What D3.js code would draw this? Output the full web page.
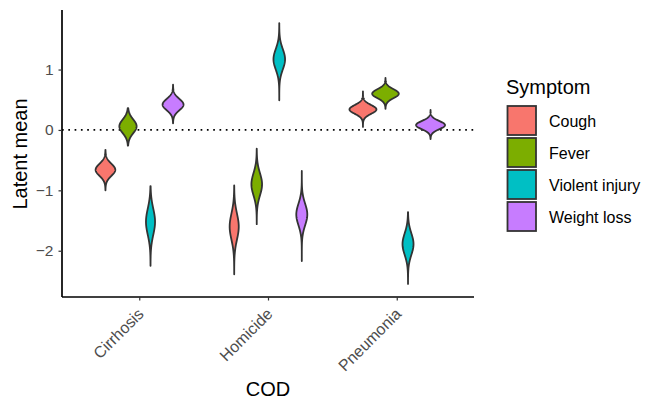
<!DOCTYPE html>
<html><head><meta charset="utf-8">
<script src="https://cdn.jsdelivr.net/npm/d3@7"></script>
<style>body{margin:0;background:#fff}text{font-family:"Liberation Sans",Arial,sans-serif}</style>
</head><body><svg id="c" width="664" height="412"></svg>
<script>
const cods = ["Cirrhosis","Homicide","Pneumonia"];
const symptoms = ["Cough","Fever","Violent injury","Weight loss"];
const colors = ["#F8766D","#7CAE00","#00BFC4","#C77CFF"];
// per COD, per symptom: posterior mode, spread (sd), min, max
const centers = [[-0.66,0.06,-1.52,0.42],[-1.6,-0.9,1.17,-1.4],[0.34,0.6,-1.89,0.08]];
const spreads = [[0.10,0.114,0.217,0.094],[0.217,0.185,0.17,0.179],[0.073,0.074,0.179,0.068]];
const mins = [[-1.0,-0.26,-2.25,0.11],[-2.39,-1.56,0.49,-2.17],[0.05,0.35,-2.55,-0.15]];
const maxs = [[-0.33,0.36,-0.93,0.75],[-0.92,-0.31,1.77,-0.68],[0.64,0.86,-1.36,0.33]];
const yTicks = [-2,-1,0,1];

const svg = d3.select("#c");
const L=62, R=474, T=10, B=297;
const x = d3.scaleLinear().domain([0.4,3.6]).range([L,R]);
const allMin = d3.min(mins.flat()), allMax = d3.max(maxs.flat());
const pad = (allMax-allMin)*0.05;
const y = d3.scaleLinear().domain([allMin-pad, allMax+pad]).range([B,T]);
const dodge = 0.7, vw = 0.9/4;
const minSd = d3.min(spreads.flat());

// zero line
svg.append("line").attr("x1",L).attr("x2",R).attr("y1",y(0)).attr("y2",y(0))
  .attr("stroke","#000").attr("stroke-width",1.7).attr("stroke-dasharray","1.7,4.6");

const area = d3.area().curve(d3.curveLinear);
cods.forEach((c,ci)=>{
  symptoms.forEach((s,si)=>{
    const cx = ci+1 + (si-1.5)*dodge/4;
    const m=centers[ci][si], sd=spreads[ci][si], lo=mins[ci][si], hi=maxs[ci][si];
    const pts=[];
    const n=120;
    for(let k=0;k<=n;k++){
      const v = lo + (hi-lo)*k/n;
      const dens = Math.exp(-0.5*((v-m)/sd)**2)/sd;
      const hw = (vw/2)*dens*minSd;
      pts.push([v,hw]);
    }
    const d = area.x0(p=>x(cx-p[1])).x1(p=>x(cx+p[1])).y(p=>y(p[0]))(pts);
    svg.append("path").attr("d",d).attr("fill",colors[si]).attr("stroke","#333333")
      .attr("stroke-width",1.8).attr("stroke-linejoin","round");
  });
});

// axes
const ya = svg.append("g").attr("transform",`translate(${L},0)`)
  .call(d3.axisLeft(y).tickValues(yTicks).tickSize(3.5).tickPadding(5).tickFormat(d=>d<0?"\u2212"+Math.abs(d):d));
ya.select(".domain").attr("d",`M0,${T}V${B}`).attr("stroke","#000").attr("stroke-width",1.7);
ya.selectAll(".tick line").attr("stroke","#333").attr("stroke-width",1.2);
ya.selectAll(".tick text").attr("fill","#4D4D4D").style("font-size","15.5px");

const xa = svg.append("g").attr("transform",`translate(0,${B})`)
  .call(d3.axisBottom(x).tickValues([1,2,3]).tickSize(3.5).tickFormat(d=>cods[d-1]));
xa.select(".domain").attr("d",`M${L},0H${R}`).attr("stroke","#000").attr("stroke-width",1.7);
xa.selectAll(".tick line").attr("stroke","#333").attr("stroke-width",1.2);
xa.selectAll(".tick text").attr("fill","#4D4D4D").style("font-size","16px")
  .attr("text-anchor","end").attr("dy",null).attr("y",0)
  .attr("transform","translate(5,18) rotate(-45)");

svg.append("text").attr("x",268).attr("y",396).attr("text-anchor","middle")
  .style("font-size","20px").text("COD");
svg.append("text").attr("transform","translate(26.5,154) rotate(-90)").attr("text-anchor","middle")
  .style("font-size","20px").text("Latent mean");

// legend
const lg = svg.append("g");
lg.append("text").attr("x",506).attr("y",94).style("font-size","20px").text("Symptom");
symptoms.forEach((s,i)=>{
  const ky = 106 + i*32;
  lg.append("rect").attr("x",507.5).attr("y",ky).attr("width",28.5).attr("height",29)
    .attr("fill",colors[i]).attr("stroke","#333").attr("stroke-width",1.8);
  lg.append("text").attr("x",549).attr("y",ky+15).attr("dy","0.35em").style("font-size","16px").text(s);
});
</script></body></html>
